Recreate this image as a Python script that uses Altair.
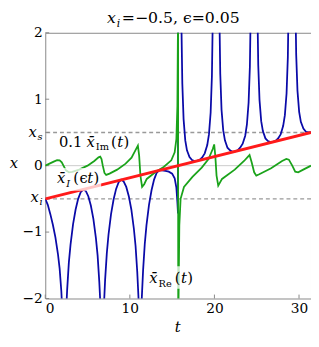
import altair as alt
import pandas as pd

# ---- data ----
t_re = [0, 0.3, 0.6, 0.9, 1.2, 1.5, 1.7, 1.9, 2.05, 2.15, 2.244,
        2.338, 2.438, 2.588, 2.788, 2.988, 3.288, 3.588, 3.888, 4.188, 4.488,
        4.788, 5.088, 5.388, 5.688, 5.988, 6.188, 6.388, 6.538, 6.638, 6.732,
        6.826, 6.926, 7.076, 7.276, 7.476, 7.776, 8.076, 8.376, 8.676, 8.976,
        9.276, 9.576, 9.876, 10.176, 10.476, 10.676, 10.876, 11.026, 11.126, 11.22,
        11.314, 11.414, 11.564, 11.764, 11.964, 12.264, 12.564, 12.864, 13.164, 13.464,
        13.8, 14.2, 14.6, 15.0, 15.3, 15.5, 15.62, 15.69, 15.708,
        16.002, 16.102, 16.202, 16.352, 16.552, 16.752, 17.052, 17.352, 17.652, 17.952,
        18.252, 18.552, 18.852, 19.152, 19.352, 19.552, 19.702, 19.802, 19.902,
        20.49, 20.59, 20.69, 20.84, 21.04, 21.24, 21.54, 21.84, 22.14, 22.44,
        22.74, 23.04, 23.34, 23.64, 23.84, 24.04, 24.19, 24.29, 24.39,
        24.978, 25.078, 25.178, 25.328, 25.528, 25.728, 26.028, 26.328, 26.628, 26.928,
        27.228, 27.528, 27.828, 28.128, 28.328, 28.528, 28.678, 28.778, 28.878,
        29.466, 29.566, 29.666, 29.816, 30.016, 30.216, 30.516, 30.816, 31.116, 31.416]
x_re = [-0.5, -0.59, -0.73, -0.89, -1.08, -1.33, -1.55, -1.89, -2.28, -2.63, -3.0,
        -2.63, -2.27, -1.87, -1.46, -1.19, -0.88, -0.66, -0.50, -0.40, -0.36,
        -0.38, -0.46, -0.60, -0.80, -1.09, -1.35, -1.75, -2.14, -2.49, -3.0,
        -2.48, -2.13, -1.72, -1.32, -1.04, -0.73, -0.51, -0.35, -0.25, -0.21,
        -0.24, -0.32, -0.46, -0.66, -0.95, -1.21, -1.60, -2.00, -2.35, -3.0,
        -2.34, -1.99, -1.58, -1.18, -0.90, -0.59, -0.37, -0.21, -0.11, -0.07,
        -0.07, -0.08, -0.09, -0.12, -0.19, -0.33, -0.55, -0.72, 3.0,
        3.0, 2.09, 1.24, 0.70, 0.38, 0.23, 0.13, 0.085, 0.069, 0.072,
        0.088, 0.123, 0.185, 0.31, 0.47, 0.80, 1.35, 2.21, 3.0,
        3.0, 2.24, 1.38, 0.84, 0.53, 0.38, 0.27, 0.23, 0.21, 0.215,
        0.23, 0.27, 0.33, 0.45, 0.62, 0.95, 1.49, 2.35, 3.0,
        3.0, 2.38, 1.52, 0.99, 0.67, 0.52, 0.41, 0.37, 0.355, 0.358,
        0.374, 0.41, 0.47, 0.60, 0.76, 1.09, 1.63, 2.50, 3.0,
        3.0, 2.52, 1.67, 1.13, 0.81, 0.66, 0.56, 0.51, 0.50, 0.50]

t_im = [0, 0.5, 1.0, 1.4, 1.7, 1.95, 2.2, 2.45, 2.8, 3.2, 4.0, 5.0, 5.8, 6.3, 6.5,
        6.65, 6.8, 7.0, 7.2, 7.6, 8.5, 9.5, 10.2, 10.7, 10.95, 11.1, 11.25, 11.45,
        11.7, 12.0, 13.0, 14.0, 14.9, 15.3, 15.5, 15.62, 15.68, 15.70, 15.72, 15.76,
        15.85, 16.0, 16.4, 17.4, 18.5, 19.3, 19.8, 19.97, 20.1, 20.25, 20.45, 20.9,
        22.4, 23.5, 24.0, 24.15, 24.4, 24.7, 24.95, 25.3, 26.7, 28.0, 28.5, 28.8,
        29.2, 29.55, 29.9, 30.5, 31.416]
x_im = [0, 0.03, 0.06, 0.082, 0.08, 0.05, -0.01, -0.07, -0.1, -0.095, -0.06, 0.0,
        0.07, 0.125, 0.135, 0.1, 0.0, -0.11, -0.14, -0.12, -0.06, 0.03, 0.12, 0.24,
        0.3, 0.15, -0.15, -0.32, -0.28, -0.2, -0.1, -0.02, 0.08, 0.2, 0.4, 0.9, 2.0,
        3.0, -3.0, -2.0, -0.9, -0.5, -0.32, -0.17, -0.03, 0.1, 0.25, 0.32, 0.15,
        -0.15, -0.3, -0.2, -0.06, 0.07, 0.14, 0.16, 0.05, -0.1, -0.15, -0.13, -0.04,
        0.07, 0.1, 0.09, 0.0, -0.09, -0.1, -0.06, 0.0]

t_red = [0, 31.416]
x_red = [-0.5, 0.5]

x_i = -0.5
x_s = 0.5
x_ticks = [0, 10, 20, 30]
y_ticks = [-2, -1, 0, 1, 2]

# ---- build ----
W, H = 271, 271
SERIF = "DejaVu Serif"
BLUE = "#0a0aa8"
GREEN = "#1aa31a"
RED = "#ff1a1a"

df_re = pd.DataFrame({"t": t_re, "x": x_re, "i": range(len(t_re))})
df_im = pd.DataFrame({"t": t_im, "x": x_im, "i": range(len(t_im))})
df_red = pd.DataFrame({"t": t_red, "x": x_red})

xs = alt.Scale(domain=[0, 31.416], nice=False, zero=False)
ys = alt.Scale(domain=[-2, 2], nice=False, zero=False)

x_axis = alt.Axis(values=x_ticks, labelFont=SERIF, labelFontSize=14, labelColor="black",
                  tickSize=0, labelPadding=3, domain=False, grid=False, title=None)
y_axis = alt.Axis(values=y_ticks, labelFont=SERIF, labelFontSize=14, labelColor="black",
                  tickSize=0, labelPadding=3, domain=False, grid=False, title=None,
                  labelExpr="datum.value < 0 ? '\u2212' + abs(datum.value) : datum.value")

zero_line = alt.Chart(pd.DataFrame({"y": [0]})).mark_rule(color="#cccccc", strokeWidth=1).encode(
    y=alt.Y("y:Q", scale=ys, axis=y_axis))

dashed = alt.Chart(pd.DataFrame({"y": [x_s, x_i]})).mark_rule(
    color="#999999", strokeWidth=1.5, strokeDash=[4, 3]).encode(y=alt.Y("y:Q", scale=ys))

xtick_marks = alt.Chart(pd.DataFrame({"t": x_ticks})).mark_rule(color="#888888").encode(
    x=alt.X("t:Q", scale=xs, axis=x_axis), y=alt.value(H), y2=alt.value(H - 4))
ytick_marks = alt.Chart(pd.DataFrame({"y": y_ticks + [x_s, x_i]})).mark_rule(color="#888888").encode(
    y=alt.Y("y:Q", scale=ys), x=alt.value(0), x2=alt.value(4))

blue = alt.Chart(df_re).mark_line(color=BLUE, strokeWidth=1.8, clip=True).encode(
    x=alt.X("t:Q", scale=xs), y=alt.Y("x:Q", scale=ys), order="i:Q")
green = alt.Chart(df_im).mark_line(color=GREEN, strokeWidth=1.8, clip=True).encode(
    x=alt.X("t:Q", scale=xs), y=alt.Y("x:Q", scale=ys), order="i:Q")
red = alt.Chart(df_red).mark_line(color=RED, strokeWidth=3, clip=True).encode(
    x=alt.X("t:Q", scale=xs), y=alt.Y("x:Q", scale=ys))

# white label backgrounds (pixel coords in the plot)
boxes = alt.Chart(pd.DataFrame({"k": [0, 1]})).transform_calculate(
    x1="datum.k == 0 ? 10 : 104", x2="datum.k == 0 ? 57 : 152",
    y1="datum.k == 0 ? 138 : 238", y2="datum.k == 0 ? 161 : 261"
).mark_rect(color="white", opacity=0.75).encode(
    x=alt.X("x1:Q", scale=None), x2="x2:Q", y=alt.Y("y1:Q", scale=None), y2="y2:Q")


def txt(s, px, py, size=15, italic=False, align="left"):
    kw = dict(text=s, font=SERIF, fontSize=size, align=align, baseline="alphabetic", color="black")
    if italic:
        kw["fontStyle"] = "italic"
    return alt.Chart(pd.DataFrame({"k": [0]})).mark_text(**kw).encode(
        x=alt.value(px), y=alt.value(py))


XBAR = "x\u0304"
texts = [
    # title
    txt("x", 63, -10, 16, True), txt("i", 73, -6, 11, True),
    txt("=\u22120.5, \u03f5=0.05", 78, -10, 16),
    # y tick labels x_s, x_i
    txt("x", -17, 106, 15, True), txt("s", -7.8, 109, 10, True),
    txt("x", -15, 173, 15, True), txt("i", -5.8, 176, 10, True),
    # axis titles
    txt("x", -32, 138, 15, True, "center"),
    txt("t", 135, 305, 15, True, "center"),
    # 0.1 x_Im (t)
    txt("0.1", 14, 116), txt(XBAR, 42, 116, 15, True), txt("Im", 51.5, 120, 10),
    txt("(", 67, 116), txt("t", 73.3, 116, 15, True), txt(")", 79.8, 116),
    # x_I (eps t)
    txt(XBAR, 12, 153, 15, True), txt("I", 21.5, 157, 10, True),
    txt("(", 28.5, 153), txt("\u03f5", 34.8, 153), txt("t", 42.8, 153, 15, True), txt(")", 49.3, 153),
    # x_Re (t)
    txt(XBAR, 106, 255, 15, True), txt("Re", 115.5, 259, 10),
    txt("(", 132, 255), txt("t", 138.3, 255, 15, True), txt(")", 144.8, 255),
]

chart = alt.layer(
    zero_line, dashed, xtick_marks, ytick_marks, blue, green, red, boxes, *texts
).properties(
    width=W, height=H,
    autosize=alt.AutoSizeParams(type="none"),
    padding={"left": 38, "top": 22, "right": 0, "bottom": 37},
).configure_view(stroke="#888888", strokeWidth=1)

chart.save("out.html", embed_options={"renderer": "svg", "actions": False})
